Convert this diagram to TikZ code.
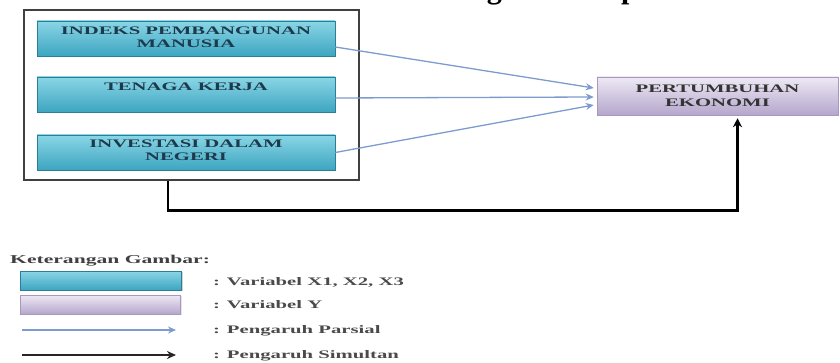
\documentclass[tikz,border=0pt]{standalone}
\usepackage{fontspec}
\setmainfont{Liberation Serif}
\newfontfamily\stretchfont[FakeStretch=1.8]{Liberation Serif}
\usetikzlibrary{arrows.meta,shadows,calc}
\definecolor{tealtop}{HTML}{8AD6E6}
\definecolor{tealbot}{HTML}{3DA5C0}
\definecolor{tealdraw}{HTML}{2B7E98}
\definecolor{tealtext}{HTML}{1C3A4C}
\definecolor{purptop}{HTML}{EEE9F4}
\definecolor{purpbot}{HTML}{B5A6CC}
\definecolor{purpdraw}{HTML}{A898C0}
\definecolor{partblue}{HTML}{7E9BD0}
\definecolor{legtext}{HTML}{4A4A4A}
\begin{document}
\begin{tikzpicture}[x=1pt,y=-1pt,
  xbox/.style={rectangle, draw=tealdraw, line width=0.6pt, top color=tealtop, bottom color=tealbot,
    minimum width=298pt, minimum height=35pt, inner sep=0pt,
    drop shadow={shadow xshift=1.2pt, shadow yshift=-1.5pt, fill=gray!70}},
  boxtext/.style={inner sep=0pt, align=center, text=tealtext,
    font=\stretchfont\bfseries\fontsize{11.5}{13}\selectfont},
  ybox/.style={rectangle, draw=purpdraw, line width=0.5pt, top color=purptop, bottom color=purpbot,
    minimum width=241pt, minimum height=38pt, inner sep=0pt, align=center,
    text=black!80, font=\stretchfont\bfseries\fontsize{11.5}{14}\selectfont,
    drop shadow={shadow xshift=1pt, shadow yshift=-1.2pt, fill=gray!40}},
  grpbox/.style={rectangle, draw=black!75, line width=1.3pt, fill=white,
    minimum width=335pt, minimum height=170pt, inner sep=0pt},
  partial/.style={draw=partblue, line width=1.3pt, -{Stealth[length=8pt,width=7pt]}},
  simul/.style={draw=black, line width=2.6pt, -{Stealth[length=9pt,width=9pt]}},
  legtxt/.style={anchor=base west, inner sep=0pt, text=legtext,
    font=\stretchfont\bfseries\fontsize{11.5}{13}\selectfont}
]
\useasboundingbox (0,0) rectangle (840,363);
\clip (0,0) rectangle (840,363);

% title (cut off at the top edge, only descenders show)
\node[anchor=base west, inner sep=0pt, font=\bfseries\fontsize{30}{34}\selectfont]
  (title) at (405,-1.5) {Kerangka Konseptual};

% group box with the three independent variables
\node[grpbox] (grp) at (191.5,95) {};
\node[xbox] (x1) at (186,38.5) {};
\node[xbox] (x2) at (186,94.5) {};
\node[xbox] (x3) at (186,152.5) {};
\node[boxtext, anchor=north] (t1) at ([yshift=-6pt]x1.north) {INDEKS PEMBANGUNAN\\MANUSIA};
\node[boxtext, anchor=north] (t2) at ([yshift=-6pt]x2.north) {TENAGA KERJA};
\node[boxtext, anchor=north] (t3) at ([yshift=-5pt]x3.north) {INVESTASI DALAM\\NEGERI};

% dependent variable
\node[ybox] (Y) at (717.5,96) {PERTUMBUHAN\\EKONOMI};

% partial effects
\draw[partial] ([yshift=-8.5pt]x1.east) -- ([xshift=-3pt,yshift=8pt]Y.west);
\draw[partial] ([yshift=-3.5pt]x2.east) -- ([xshift=-3pt,yshift=-1pt]Y.west);
\draw[partial] (x3.east) -- ([xshift=-3pt,yshift=-9pt]Y.west);

% simultaneous effect
\draw[simul] ([xshift=-23.5pt]grp.south) -- ++(0,30) -| ([xshift=20pt,yshift=-3pt]Y.south);

% legend
\node[anchor=base west, inner sep=0pt, text=black!75,
  font=\stretchfont\bfseries\fontsize{12}{13}\selectfont] (legtitle) at (10,263) {Keterangan Gambar:};
\node[rectangle, draw=tealdraw, line width=0.6pt, top color=tealtop, bottom color=tealbot,
  minimum width=161pt, minimum height=19pt, inner sep=0pt,
  drop shadow={shadow xshift=1.2pt, shadow yshift=-1.2pt, fill=gray!70}] (lx) at (101,280.5) {};
\node[rectangle, draw=purpdraw, line width=0.5pt, top color=purptop, bottom color=purpbot,
  minimum width=160pt, minimum height=19pt, inner sep=0pt,
  drop shadow={shadow xshift=1pt, shadow yshift=-1pt, fill=gray!40}] (ly) at (100.5,304.5) {};
\coordinate (lpa) at (22,330);
\coordinate (lpb) at (176,330);
\coordinate (lsa) at (22,355);
\coordinate (lsb) at (176,355);
\draw[partial, line width=1.6pt] (lpa) -- (lpb);
\draw[draw=black!85, line width=2pt, -{Stealth[length=9pt,width=8pt]}] (lsa) -- (lsb);
\node[legtxt] (l1) at (213,285) {: Variabel X1, X2, X3};
\node[legtxt] (l2) at (213,308) {: Variabel Y};
\node[legtxt] (l3) at (213,333) {: Pengaruh Parsial};
\node[legtxt] (l4) at (213,358) {: Pengaruh Simultan};
\end{tikzpicture}
\end{document}
